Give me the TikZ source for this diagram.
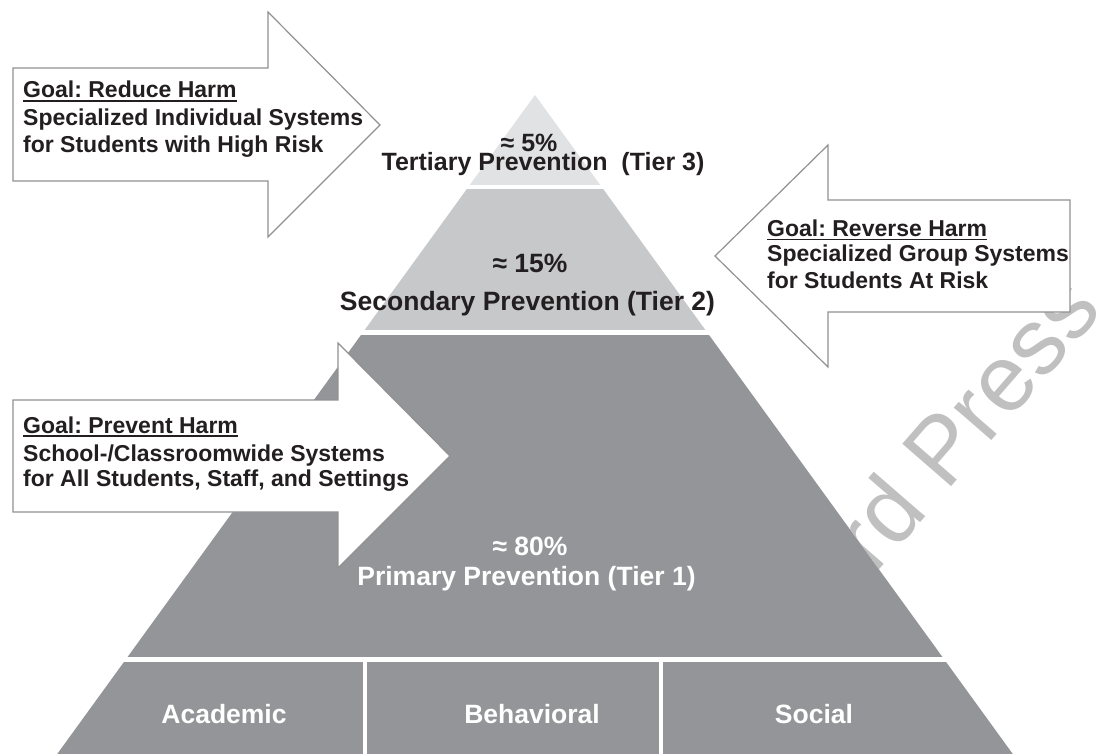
\documentclass[tikz,border=0pt]{standalone}
\usepackage{fontspec}
\setmainfont{Liberation Sans}
\frenchspacing

\definecolor{tierthree}{RGB}{225,226,227}
\definecolor{tiertwo}{RGB}{199,200,202}
\definecolor{tierone}{RGB}{147,149,152}
\definecolor{inkdark}{RGB}{35,31,32}
\definecolor{arrowline}{RGB}{145,145,145}
\definecolor{markgray}{RGB}{192,192,192}

\begin{document}
\begin{tikzpicture}[x=1pt,y=-1pt,
	tiertext/.style={font={\bfseries\fontsize{26.5}{30}\selectfont},text=inkdark,inner sep=0pt,anchor=base},
	toptext/.style={tiertext,font={\bfseries\fontsize{25}{28}\selectfont}},
	basetext/.style={tiertext,text=white},
	goalarrow/.style={draw=arrowline,fill=white,line width=1.2pt,line join=miter},
	goaltext/.style={font={\bfseries\fontsize{23}{26}\selectfont},text=inkdark,inner sep=0pt,anchor=base west},
	goalline/.style={draw=inkdark,line width=1.7pt}]
	\useasboundingbox (0,0) rectangle (1099,754);
	% watermark, mostly hidden by the pyramid
	\node[font={\fontsize{94}{94}\selectfont},text=markgray,rotate=49,anchor=base,inner sep=0pt] (mark) at (909,536) {Guilford Press};
	% pyramid bands
	\fill[white] (535,95) -- (49.25,765) -- (1020.75,765) -- cycle;
	\begin{scope}
		\clip (535,95) -- (49.25,765) -- (1020.75,765) -- cycle;
		\fill[tierthree] (0,90) rectangle (1099,185);
		\fill[tiertwo] (0,189) rectangle (1099,330);
		\fill[tierone] (0,335) rectangle (1099,657);
		\fill[tierone] (0,662) rectangle (362.5,765);
		\fill[tierone] (366.5,662) rectangle (658.5,765);
		\fill[tierone] (662.5,662) rectangle (1099,765);
	\end{scope}
	\node[toptext] (pct3) at (529,152) {≈ 5\%};
	\node[toptext] (tier3) at (543,170.5) {Tertiary Prevention\ \ (Tier 3)};
	\node[tiertext] (pct2) at (530,272) {≈ 15\%};
	\node[tiertext] (tier2) at (527.5,310) {Secondary Prevention (Tier 2)};
	\node[basetext] (pct1) at (530,555) {≈ 80\%};
	\node[basetext] (tier1) at (526.5,585.5) {Primary Prevention (Tier 1)};
	\node[basetext] (acad) at (224,723) {Academic};
	\node[basetext] (behav) at (532,723) {Behavioral};
	\node[basetext] (soc) at (814,723) {Social};
	% goal arrows
	\draw[goalarrow] (13,68) -- (268,68) -- (268,12) -- (380,125) -- (268,237) -- (268,181) -- (13,181) -- cycle;
	\node[goaltext] (reduce) at (23,98) {Goal: Reduce Harm};
	\node[goaltext] (reduce2) at (23,126) {Specialized Individual Systems};
	\node[goaltext] (reduce3) at (23,153) {for Students with High Risk};
	\draw[goalline] ([yshift=-2.7pt]reduce.base west) -- ([yshift=-2.7pt]reduce.base east);

	\draw[goalarrow] (1070,200) -- (828,200) -- (828,145) -- (715,256) -- (828,367) -- (828,312) -- (1070,312) -- cycle;
	\node[goaltext] (reverse) at (767,236.7) {Goal: Reverse Harm};
	\node[goaltext] (reverse2) at (767,261.7) {Specialized Group Systems};
	\node[goaltext] (reverse3) at (767,288.3) {for Students At Risk};
	\draw[goalline] ([yshift=-2.7pt]reverse.base west) -- ([yshift=-2.7pt]reverse.base east);

	\draw[goalarrow] (13,400) -- (338,400) -- (338,343) -- (450,456) -- (338,568) -- (338,512) -- (13,512) -- cycle;
	\node[goaltext] (prevent) at (23,433.3) {Goal: Prevent Harm};
	\node[goaltext] (prevent2) at (23,461.7) {School-/Classroomwide Systems};
	\node[goaltext] (prevent3) at (23,486.7) {for All Students, Staff, and Settings};
	\draw[goalline] ([yshift=-2.7pt]prevent.base west) -- ([yshift=-2.7pt]prevent.base east);
\end{tikzpicture}
\end{document}
